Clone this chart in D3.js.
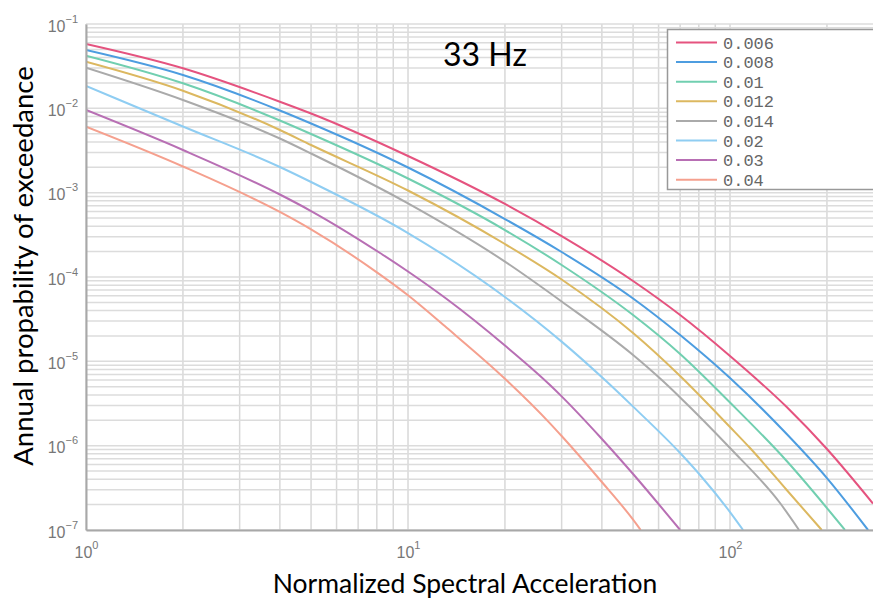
<!DOCTYPE html>
<html><head><meta charset="utf-8">
<script src="https://cdn.jsdelivr.net/npm/d3@7"></script>
<style>html,body{margin:0;padding:0;background:#fff;}svg{display:block;}</style>
</head><body>
<svg id="chart" width="873" height="603"></svg>
<script>
// ---- data ----
const legendLabels = ["0.006", "0.008", "0.01", "0.012", "0.014", "0.02", "0.03", "0.04"];
const xTicks = [1, 10, 100];
const yTicks = [1e-7, 1e-6, 1e-5, 1e-4, 1e-3, 1e-2, 1e-1];
const s006 = [[1,0.0579],[2,0.02983],[4,0.01198],[5,0.008684],[10,0.00272],[20,7.34e-4],[30,3.06e-4],[50,8.96e-5],[70,3.54e-5],[100,1.157e-5],[150,2.87e-6],[200,9.13e-7],[278,2.06e-7]];
const s008 = [[1,0.04916],[2,0.02484],[4,0.009426],[5,0.006609],[10,0.001988],[20,4.87e-4],[30,1.978e-4],[50,5.56e-5],[70,2.052e-5],[100,6.34e-6],[150,1.374e-6],[200,4.13e-7],[268.3,1e-7]];
const s010 = [[1,0.04208],[2,0.0198],[4,0.007173],[5,0.004961],[10,0.001472],[20,3.607e-4],[30,1.388e-4],[50,3.54e-5],[70,1.222e-5],[100,3.248e-6],[150,6.58e-7],[200,1.822e-7],[227.5,1e-7]];
const s012 = [[1,0.03572],[2,0.01619],[4,0.005534],[5,0.003674],[10,0.001061],[20,2.461e-4],[30,9.34e-5],[50,2.167e-5],[70,6.7e-6],[100,1.664e-6],[115.4,9.38e-7],[150,2.98e-7],[192.7,1e-7]];
const s014 = [[1,0.03032],[2,0.01256],[4,0.004388],[5,0.002913],[10,7.46e-4],[20,1.522e-4],[30,5.12e-5],[50,1.188e-5],[61.4,6.0e-6],[70,3.734e-6],[100,9.38e-7],[143,2.089e-7],[163.8,1e-7]];
const s020 = [[1,0.0184],[2,0.006088],[4,0.002015],[5,0.001338],[10,3.322e-4],[20,5.79e-5],[30,1.713e-5],[40.9,6.0e-6],[50,2.904e-6],[70,8.18e-7],[80.7,4.49e-7],[100,1.633e-7],[109.8,1e-7]];
const s030 = [[1,0.009554],[2,0.003205],[4,9.51e-4],[5,6.06e-4],[8.19,1.926e-4],[10,1.162e-4],[13.19,5.48e-5],[20,1.54e-5],[27.6,5.24e-6],[30,3.84e-6],[39.5,1.267e-6],[50,4.61e-7],[70,1e-7]];
const s040 = [[1,0.006056],[2,0.002043],[4,5.9e-4],[5,3.667e-4],[8.19,1.067e-4],[10,6.065e-5],[13.19,2.497e-5],[20,6.22e-6],[27.6,1.841e-6],[30,1.301e-6],[39.5,3.915e-7],[50,1.327e-7],[52.8,1e-7]];
const seriesData = [s006, s008, s010, s012, s014, s020, s030, s040];

// ---- styles ----
const colors = ["#e5537f", "#4d9de0", "#71cfb0", "#dcb860", "#aaaaaa", "#8fcdf2", "#b86fb4", "#f5a08e"];

const svg = d3.select("#chart");
const L = 86, R = 873, T = 24, B = 530;
const x = d3.scaleLog().domain([1, 278]).range([L, R]);
const y = d3.scaleLog().domain([1e-7, 1e-1]).range([B, T]);

// grid
const grid = svg.append("g");
const xGrid = [];
for (let d = 1; d <= 100; d *= 10) for (let k = 1; k <= 9; k++) { const v = d * k; if (v <= 278) xGrid.push(v); }
const yGrid = [];
for (let e = -7; e < -1; e++) for (let k = 1; k <= 9; k++) yGrid.push(k * Math.pow(10, e));
yGrid.push(1e-1);
grid.selectAll("line.v").data(xGrid).join("line")
  .attr("x1", d => x(d)).attr("x2", d => x(d)).attr("y1", T).attr("y2", B)
  .attr("stroke", "#d8d8d8").attr("stroke-width", 1.5);
grid.selectAll("line.h").data(yGrid).join("line")
  .attr("x1", L).attr("x2", R).attr("y1", d => y(d)).attr("y2", d => y(d))
  .attr("stroke", "#dcdcdc").attr("stroke-width", 1.5);

// curves
svg.append("clipPath").attr("id", "clip").append("rect")
  .attr("x", L).attr("y", T).attr("width", R - L).attr("height", B - T);
const line = d3.line().x(d => x(d[0])).y(d => y(d[1])).curve(d3.curveMonotoneX);
svg.append("g").attr("clip-path", "url(#clip)")
  .selectAll("path").data(seriesData).join("path")
  .attr("d", line).attr("fill", "none")
  .attr("stroke", (d, i) => colors[i]).attr("stroke-width", 2);

// axes
const axisColor = "#a8a8a8", labColor = "#777";
const gx = svg.append("g").attr("transform", `translate(0,${B})`)
  .call(d3.axisBottom(x).tickValues(xTicks).tickSize(0).tickFormat(() => ""));
gx.select(".domain").attr("stroke", axisColor).attr("stroke-width", 2);
gx.selectAll(".tick").each(function(d) {
  const t = d3.select(this).append("text").attr("fill", labColor)
    .attr("font-family", "Liberation Sans, Arial, sans-serif").attr("font-size", 16)
    .attr("text-anchor", "middle").attr("y", 28);
  t.append("tspan").text("10");
  t.append("tspan").attr("dy", -9).attr("font-size", 11).text(Math.round(Math.log10(d)));
});
const gy = svg.append("g").attr("transform", `translate(${L},0)`)
  .call(d3.axisLeft(y).tickValues(yTicks).tickSize(0).tickFormat(() => ""));
gy.select(".domain").attr("stroke", axisColor).attr("stroke-width", 2);
gy.selectAll(".tick").each(function(d) {
  const t = d3.select(this).append("text").attr("fill", labColor)
    .attr("font-family", "Liberation Sans, Arial, sans-serif").attr("font-size", 16)
    .attr("text-anchor", "end").attr("x", -8).attr("y", 7);
  t.append("tspan").text("10");
  t.append("tspan").attr("dy", -9).attr("font-size", 11).text("\u2212" + Math.round(-Math.log10(d)));
});

// titles
svg.append("text").attr("x", 465).attr("y", 593).attr("text-anchor", "middle")
  .attr("font-family", "Lato, sans-serif").attr("font-size", 26.5).attr("fill", "#000")
  .text("Normalized Spectral Acceleration");
svg.append("text").attr("transform", "translate(33,266) rotate(-90)").attr("text-anchor", "middle")
  .attr("font-family", "Lato, sans-serif").attr("font-size", 27.5).attr("fill", "#000")
  .text("Annual propability of exceedance");
svg.append("text").attr("x", 485).attr("y", 66).attr("text-anchor", "middle")
  .attr("font-family", "Lato, sans-serif").attr("font-size", 32).attr("fill", "#000")
  .text("33 Hz");

// legend
const lg = svg.append("g");
lg.append("rect").attr("x", 667.5).attr("y", 29.5).attr("width", 220).attr("height", 160)
  .attr("fill", "#fff").attr("stroke", "#999").attr("stroke-width", 1.5);
const rows = lg.selectAll("g.row").data(legendLabels).join("g")
  .attr("transform", (d, i) => `translate(0,${42.5 + i * 19.6})`);
rows.append("line").attr("x1", 676).attr("x2", 717).attr("y1", 0).attr("y2", 0)
  .attr("stroke", (d, i) => colors[i]).attr("stroke-width", 2);
rows.append("text").attr("x", 723).attr("y", 6).attr("fill", "#666")
  .attr("font-family", "Liberation Mono, DejaVu Sans Mono, monospace").attr("font-size", 17)
  .text(d => d);
</script>
</body></html>
